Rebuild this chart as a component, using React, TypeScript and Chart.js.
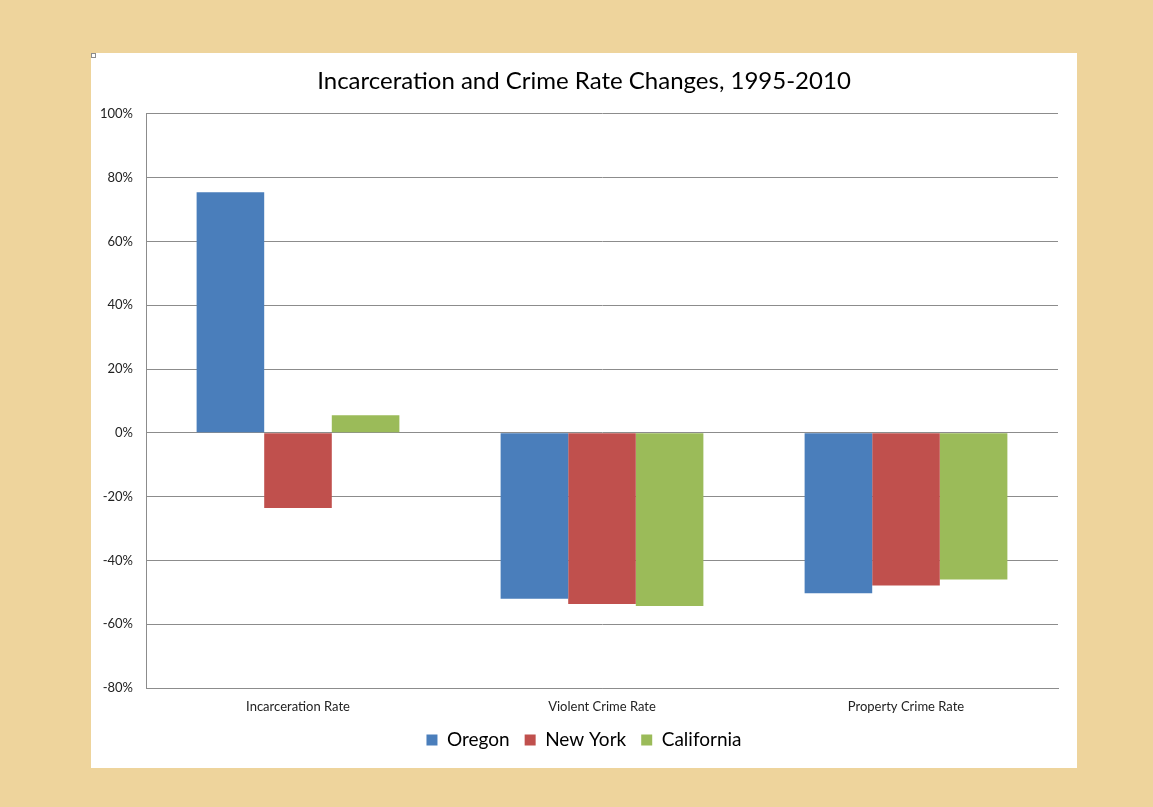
import React, { useEffect, useRef } from "react";
import { Chart, registerables } from "chart.js";

Chart.register(...registerables);

const categories = ["Incarceration Rate", "Violent Crime Rate", "Property Crime Rate"];
const oregon = [75.4, -52.0, -50.3];
const newYork = [-23.6, -53.7, -47.9];
const california = [5.5, -54.3, -46.0];
const yTicks = { min: -80, max: 100, step: 20 };
const title = "Incarceration and Crime Rate Changes, 1995-2010";

const FONT = "Lato, 'Open Sans', sans-serif";

export default function App() {
  const ref = useRef<HTMLCanvasElement | null>(null);

  useEffect(() => {
    document.body.style.margin = "0";
    const canvas = ref.current;
    if (!canvas) return;
    const chart = new Chart(canvas, {
      type: "bar",
      data: {
        labels: categories,
        datasets: [
          { label: "Oregon", data: oregon, backgroundColor: "#4A7EBB" },
          { label: "New York", data: newYork, backgroundColor: "#C0504D" },
          { label: "California", data: california, backgroundColor: "#9BBB59" },
        ],
      },
      options: {
        animation: false,
        responsive: false,
        maintainAspectRatio: false,
        layout: { padding: { left: 0, right: 0, top: 0, bottom: 8.5 } },
        datasets: { bar: { categoryPercentage: 0.667, barPercentage: 1 } },
        plugins: {
          title: {
            display: true,
            text: title,
            color: "#000",
            font: { family: FONT, size: 24, weight: "normal" },
            padding: { top: 14, bottom: 18 },
          },
          legend: {
            display: true,
            position: "bottom",
            labels: {
              color: "#000",
              font: { family: FONT, size: 19 },
              boxWidth: 11,
              boxHeight: 11,
              padding: 15,
            },
          },
          tooltip: { enabled: false },
        },
        scales: {
          x: {
            afterFit: (s: any) => {
              s.height = 27.5;
            },
            grid: { display: false, drawTicks: false },
            border: { display: true, color: "#8C8C8C", width: 1 },
            ticks: { color: "#222", font: { family: FONT, size: 13 }, padding: 11 },
          },
          y: {
            min: yTicks.min,
            max: yTicks.max,
            afterFit: (s: any) => {
              s.width = 55;
            },
            grid: { color: "#8C8C8C", lineWidth: 1, drawTicks: false },
            border: { display: true, color: "#8C8C8C", width: 1 },
            ticks: {
              stepSize: yTicks.step,
              color: "#222",
              font: { family: FONT, size: 13 },
              padding: 13,
              callback: (v: any) => `${v}%`,
            },
          },
          yRight: {
            position: "right",
            afterFit: (s: any) => {
              s.width = 19;
            },
            grid: { display: false, drawTicks: false },
            border: { display: false },
            ticks: { display: false },
          },
        },
      },
    });
    return () => chart.destroy();
  }, []);

  return (
    <div
      style={{
        position: "fixed",
        left: 0,
        top: 0,
        width: 1153,
        height: 807,
        background: "#EED49C",
      }}
    >
      <div
        style={{
          position: "absolute",
          left: 91,
          top: 53,
          width: 986,
          height: 715,
          background: "#FFFFFF",
        }}
      >
        <canvas ref={ref} width={986} height={715} style={{ display: "block" }} />
        <div
          style={{
            position: "absolute",
            left: 0,
            top: 0,
            width: 5,
            height: 5,
            boxSizing: "border-box",
            border: "1px solid #8C8C8C",
            background: "#fff",
          }}
        />
      </div>
    </div>
  );
}
